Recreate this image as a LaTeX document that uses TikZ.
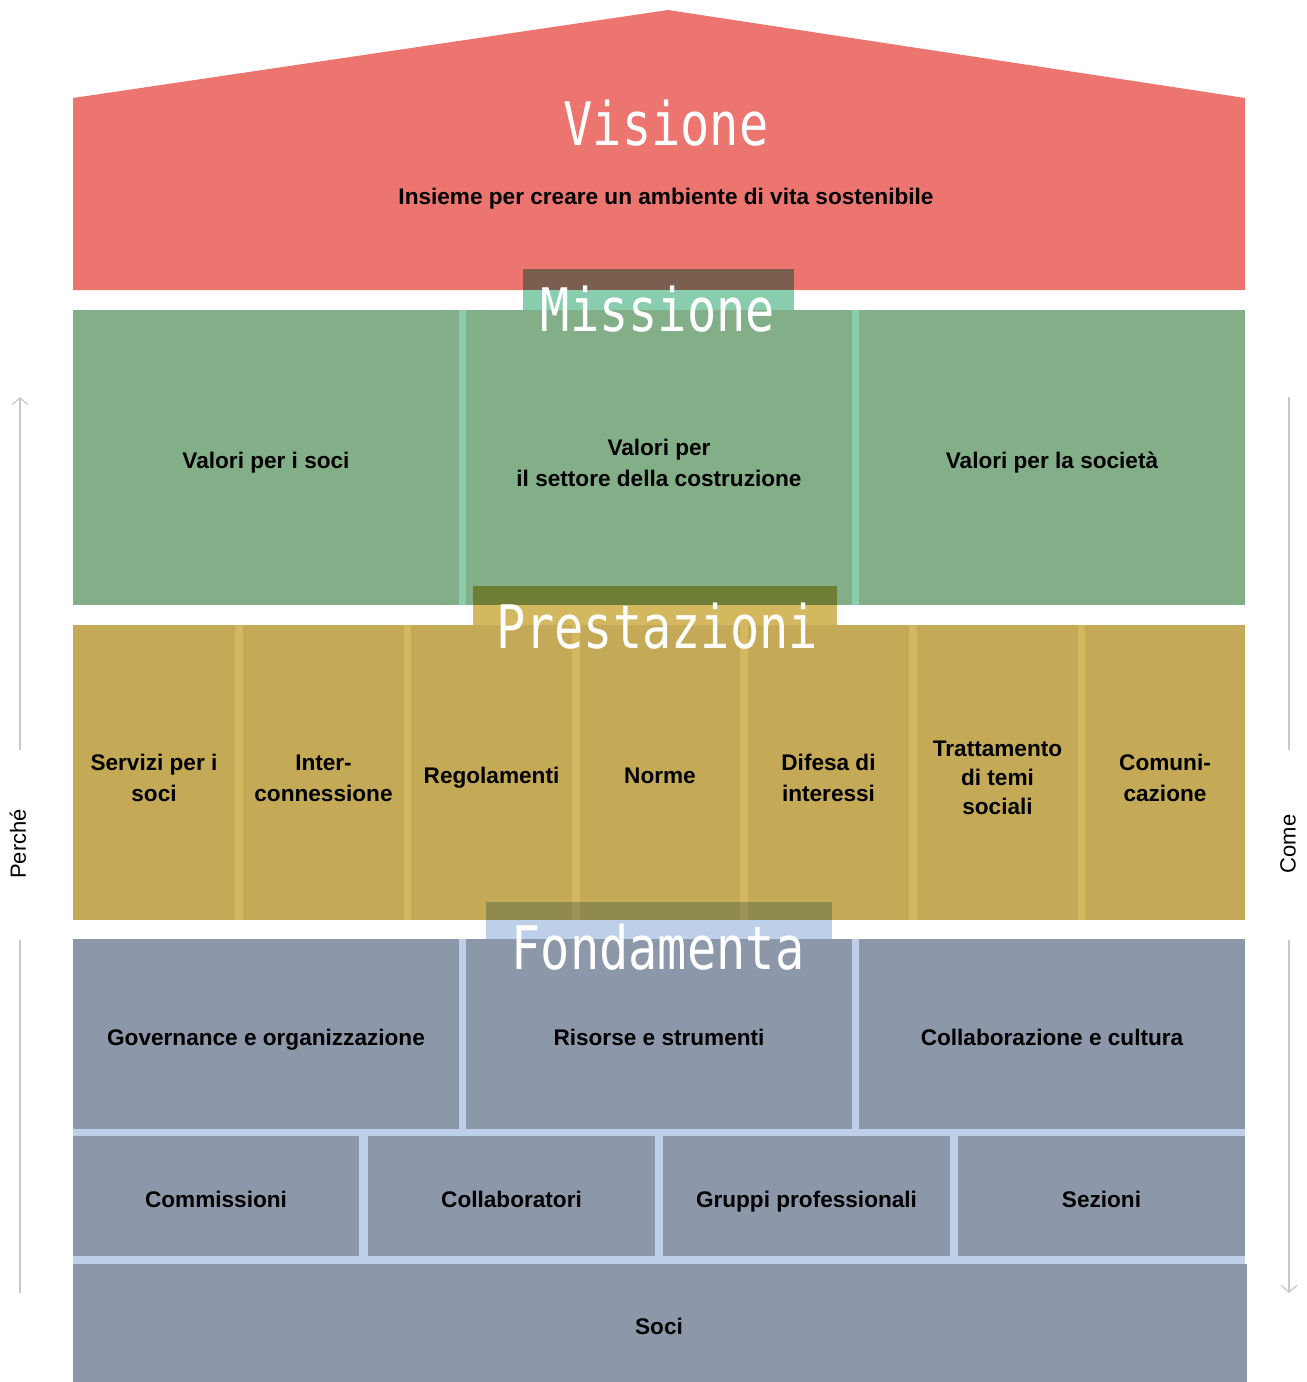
\documentclass[tikz,border=0pt]{standalone}
\usepackage{fontspec}
\setmainfont{Liberation Sans}
\newfontfamily\titlefont[FakeStretch=0.81]{DejaVu Sans Mono}
\usetikzlibrary{arrows.meta}
\definecolor{vred}{HTML}{ED756F}
\definecolor{mgreen}{HTML}{83AF88}
\definecolor{mmint}{HTML}{88CEAE}
\definecolor{mbrown}{HTML}{7B5E4E}
\definecolor{pyel}{HTML}{C4A956}
\definecolor{pyell}{HTML}{D3B860}
\definecolor{polive}{HTML}{6E7E34}
\definecolor{fgray}{HTML}{8C98A9}
\definecolor{flight}{HTML}{BDCFE9}
\definecolor{fdark}{HTML}{8F8A4E}
\definecolor{fdarkl}{HTML}{9A9258}
\definecolor{arrgray}{HTML}{C8C8C8}
\tikzset{
  box/.style={inner sep=0pt, outer sep=0pt},
  cell/.style={inner sep=0pt, outer sep=0pt, align=center, yshift=-5.5pt, font=\fontsize{22.6}{31}\selectfont\bfseries, text=black},
  one/.style={text height=16.4pt, text depth=4.6pt},
  title/.style={inner sep=0pt, anchor=base, text=white, font=\titlefont\fontsize{60}{60}\selectfont},
  side/.style={inner sep=0pt, rotate=90, font=\fontsize{22}{26}\selectfont, text=black},
  sidearrow/.style={draw=arrgray, line width=1.5pt, -{Straight Barb[length=7pt,width=16pt,line width=1.2pt]}},
  sideline/.style={draw=arrgray, line width=1.5pt}
}
\begin{document}
\begin{tikzpicture}[x=1pt,y=-1pt]
\useasboundingbox (0,0) rectangle (1307,1382);
% Visione
\fill[vred] (73,98) -- (668,10) -- (1245,98) -- (1245,290) -- (73,290) -- cycle;
\node[title] (tvis) at (666,145) {Visione};
\node[cell, one] (vistext) at (666,193) {Insieme per creare un ambiente di vita sostenibile};
% Missione
\fill[mmint] (73,310) rectangle (1245,605);
\fill[mbrown] (523,269) rectangle (794,290);
\fill[mmint] (523,290) rectangle (794,310);
\node[box, fill=mgreen, minimum width=386pt, minimum height=295pt] (m1) at (266,457.5) {};
\node[box, fill=mgreen, minimum width=386pt, minimum height=295pt] (m2) at (659,457.5) {};
\node[box, fill=mgreen, minimum width=386pt, minimum height=295pt] (m3) at (1052,457.5) {};
\node[cell, one] (m1t) at (m1.center) {Valori per i soci};
\node[cell] (m2t) at (m2.center) {Valori per\\il settore della costruzione};
\node[cell, one] (m3t) at (m3.center) {Valori per la società};
\node[title] (tmis) at (658,331) {Missione};
% Prestazioni
\fill[pyell] (73,625) rectangle (1245,920);
\fill[polive] (473,586) rectangle (837,605);
\fill[pyell] (473,605) rectangle (837,625);
\node[box, fill=pyel, minimum width=162pt, minimum height=295pt] (p1) at (154,772.5) {};
\node[box, fill=pyel, minimum width=161pt, minimum height=295pt] (p2) at (323.5,772.5) {};
\node[box, fill=pyel, minimum width=161pt, minimum height=295pt] (p3) at (491.5,772.5) {};
\node[box, fill=pyel, minimum width=160pt, minimum height=295pt] (p4) at (660,772.5) {};
\node[box, fill=pyel, minimum width=161pt, minimum height=295pt] (p5) at (828.5,772.5) {};
\node[box, fill=pyel, minimum width=161pt, minimum height=295pt] (p6) at (997.5,772.5) {};
\node[box, fill=pyel, minimum width=160pt, minimum height=295pt] (p7) at (1165,772.5) {};
\node[cell] (p1t) at (p1.center) {Servizi per i\\soci};
\node[cell] (p2t) at (p2.center) {Inter-\\connessione};
\node[cell, one] (p3t) at (p3.center) {Regolamenti};
\node[cell, one] (p4t) at (p4.center) {Norme};
\node[cell] (p5t) at (p5.center) {Difesa di\\interessi};
\node[cell, font=\fontsize{22.6}{29}\selectfont\bfseries] (p6t) at (p6.center) {Trattamento\\di temi\\sociali};
\node[cell] (p7t) at (p7.center) {Comuni-\\cazione};
\node[title] (tpre) at (657,648) {Prestazioni};
% Fondamenta
\fill[flight] (73,939) rectangle (1245,1382);
\fill[fdark] (486,902) rectangle (832,920);
\fill[fdarkl] (572,902) rectangle (580,920);
\fill[fdarkl] (740,902) rectangle (748,920);
\fill[flight] (486,920) rectangle (832,939);
\node[box, fill=fgray, minimum width=386pt, minimum height=190pt] (f1) at (266,1034) {};
\node[box, fill=fgray, minimum width=386pt, minimum height=190pt] (f2) at (659,1034) {};
\node[box, fill=fgray, minimum width=386pt, minimum height=190pt] (f3) at (1052,1034) {};
\node[box, fill=fgray, minimum width=286pt, minimum height=120pt] (g1) at (216,1196) {};
\node[box, fill=fgray, minimum width=287pt, minimum height=120pt] (g2) at (511.5,1196) {};
\node[box, fill=fgray, minimum width=287pt, minimum height=120pt] (g3) at (806.5,1196) {};
\node[box, fill=fgray, minimum width=287pt, minimum height=120pt] (g4) at (1101.5,1196) {};
\node[box, fill=fgray, minimum width=1174pt, minimum height=118pt] (soci) at (660,1323) {};
\node[cell, one] (f1t) at (f1.center) {Governance e organizzazione};
\node[cell, one] (f2t) at (f2.center) {Risorse e strumenti};
\node[cell, one] (f3t) at (f3.center) {Collaborazione e cultura};
\node[cell, one] (g1t) at (g1.center) {Commissioni};
\node[cell, one] (g2t) at (g2.center) {Collaboratori};
\node[cell, one] (g3t) at (g3.center) {Gruppi professionali};
\node[cell, one] (g4t) at (g4.center) {Sezioni};
\node[cell, one] (socit) at (659,1323) {Soci};
\node[title] (tfon) at (658,969) {Fondamenta};
% side arrows
\node[side] (perche) at (18,844) {Perché};
\node[side] (come) at (1288,844) {Come};
\coordinate (lt) at (20,397);
\coordinate (lm1) at (20,750);
\coordinate (lm2) at (20,940);
\coordinate (lb) at (20,1293);
\coordinate (rt) at (1289,397);
\coordinate (rm1) at (1289,750);
\coordinate (rm2) at (1289,940);
\coordinate (rb) at (1289,1293);
\draw[sidearrow] (lm1) -- (lt);
\draw[sideline] (lm2) -- (lb);
\draw[sideline] (rt) -- (rm1);
\draw[sidearrow] (rm2) -- (rb);
\end{tikzpicture}
\end{document}
